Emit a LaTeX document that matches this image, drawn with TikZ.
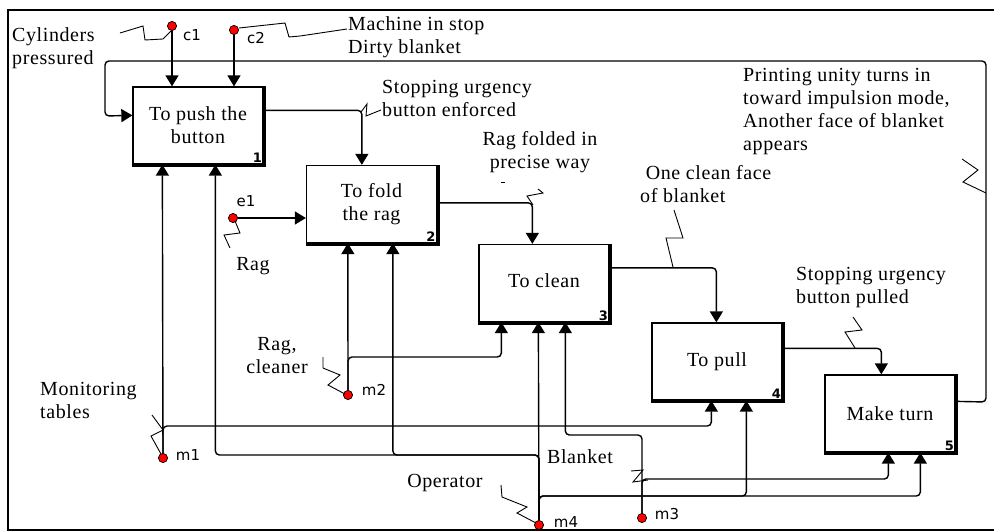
\documentclass[tikz,border=0pt]{standalone}
\usepackage{fontspec}
\setmainfont{Liberation Serif}[LetterSpace=3]
\newfontfamily\labfont{DejaVu Sans}
\usetikzlibrary{arrows.meta,calc}
\tikzset{
  fbox/.style={draw, line width=1.3pt, minimum width=130pt, minimum height=77pt, inner sep=0pt, align=center, font=\fontsize{20}{23}\selectfont},
  num/.style={anchor=south east, inner sep=1.5pt, font=\labfont\bfseries\fontsize{13}{13}\selectfont},
  arr/.style={-{Triangle[width=13pt,length=11pt]}, line width=1.4pt, rounded corners=4pt},
  dot/.style={circle, fill=red, draw=black, line width=0.6pt, inner sep=0pt, minimum size=9pt},
  dlab/.style={inner sep=0pt, font=\labfont\fontsize{15}{15}\selectfont},
  txt/.style={inner sep=0pt, align=left, font=\fontsize{20}{23}\selectfont},
  sq/.style={line width=0.9pt}
}
\begin{document}
\begin{tikzpicture}[x=1pt,y=-1pt]
\useasboundingbox (0,0) rectangle (994,531);
\draw[line width=1.5pt] (8,10) rectangle (997,530);

% boxes
\node[fbox] (b1) at (198,125.5) {To push the\\button};
\node[fbox] (b2) at (371.5,204) {To fold\\the rag};
\node[fbox] (b3) at (544,283) {To clean\vphantom{g}};
\node[fbox] (b4) at (717,361.5) {To pull};
\node[fbox] (b5) at (890,413.5) {Make turn};
\foreach \b in {b1,b2,b3,b4,b5}
  \draw[line width=3.5pt] ([xshift=1pt]\b.north east) -- ([xshift=1pt,yshift=-1pt]\b.south east) -- ([yshift=-1pt]\b.south west);
\node[num] at (b1.south east) {1};
\node[num] at (b2.south east) {2};
\node[num] at (b3.south east) {3};
\node[num] at (b4.south east) {4};
\node[num] at (b5.south east) {5};

% dots
\node[dot] (c1) at (172,26) {};
\node[dot] (c2) at (234,30) {};
\node[dot] (e1) at (233,218) {};
\node[dot] (m1) at (163,458) {};
\node[dot] (m2) at (348,395) {};
\node[dot] (m3) at (642,518) {};
\node[dot] (m4) at (539,525) {};

% connectors
\draw[arr] (c1) -- (c1 |- b1.north);
\draw[arr] (c2) -- (c2 |- b1.north);
\draw[arr] ($(b5.north east)+(0,27)$) -- (986,402) -- (986,61) -- (105,61) -- (105,116) -- ($(b1.north west)+(0,29)$);
\draw[arr] ($(b1.north east)+(0,24)$) -| ($(b2.north west)+(56,0)$);
\draw[arr] (e1) -- (e1 -| b2.west);
\draw[arr] ($(b2.north east)+(0,38)$) -| ($(b3.north west)+(54,0)$);
\draw[arr] ($(b3.north east)+(0,24)$) -| ($(b4.north west)+(65,0)$);
\draw[arr] ($(b4.north east)+(0,26)$) -| ($(b5.north west)+(57,0)$);

\draw[arr] (m1) -- ($(b1.south west)+(30,0)$);
\draw[arr] (m1) -- (163,426) -| ($(b4.south west)+(60,0)$);
\draw[arr] (m4) -- (539,455) -| ($(b1.south west)+(83,0)$);
\draw[arr] (m4) -- (539,455) -| ($(b2.south west)+(87,0)$);
\draw[arr] (m4) -- ($(b3.south west)+(60,0)$);
\draw[arr] (m4) -- (539,496) -| ($(b4.south west)+(95,0)$);
\draw[arr] (m4) -- (539,496) -| ($(b5.south west)+(96,0)$);
\draw[arr] (m2) -- ($(b2.south west)+(42,0)$);
\draw[arr] (m2) -- (348,357) -| ($(b3.south west)+(23,0)$);
\draw[arr] (m3) -- (642,435) -| ($(b3.south west)+(87,0)$);
\draw[arr] (m3) -- (642,479) -| ($(b5.south west)+(64,0)$);

% redraw dots on top
\foreach \p in {{172,26},{234,30},{233,218},{163,458},{348,395},{642,518},{539,525}}
  \node[dot] at (\p) {};

% dot labels
\node[dlab] at (192,35) {c1};
\node[dlab] at (256,38) {c2};
\node[dlab] at (246,201) {e1};
\node[dlab] at (188,455) {m1};
\node[dlab] at (374,390) {m2};
\node[dlab] at (667,514) {m3};
\node[dlab] at (566,522) {m4};

% squiggles
\draw[sq] (120,33) -- (143,26) -- (145,40) -- (163,39) -- (171,31);
\draw[sq] (239,28) -- (285,23) -- (289,37) -- (300,36) -- (347,29);
\draw[sq] (361,112) -- (367,104) -- (366,116) -- (381,110);
\draw[sq] (533,205) -- (527,196) -- (543,193) -- (538,189);
\draw[sq] (501,182) -- (505,182);
\draw[sq] (673,267) -- (666,238) -- (683,238) -- (674,210);
\draw[sq] (855,348) -- (845,332) -- (862,330) -- (853,317);
\draw[sq] (962,159) -- (978,170) -- (963,182) -- (986,193);
\draw[sq] (235,221) -- (240,233) -- (224,235) -- (230,248);
\draw[sq] (152,415) -- (163,430) -- (151,436) -- (161,454);
\draw[sq] (345,394) -- (328,385) -- (340,375) -- (323,368) -- (323,357);
\draw[sq] (536,523) -- (517,513) -- (527,507) -- (502,497) -- (501,485);
\draw[sq] (631,471) -- (643,470) -- (633,482) -- (648,480);

% texts
\node[txt, anchor=west] at (12,48.5) {Cylinders\\pressured};
\node[txt, anchor=west] at (348,37.5) {Machine in stop\\Dirty blanket};
\node[txt, anchor=west] at (382,98) {Stopping urgency\\button enforced};
\node[txt, align=center] at (540,152.5) {Rag folded in\\precise way};
\node[txt, anchor=west] at (640,184.5) {\ One clean face\\of blanket};
\node[txt, anchor=west] at (743,112) {Printing unity turns in\\toward impulsion mode,\\Another face of blanket\\appears};
\node[txt, anchor=west] at (796,288) {Stopping urgency\\button pulled};
\node[txt] at (253,266) {Rag};
\node[txt, align=center] at (277,355.5) {Rag,\\cleaner};
\node[txt, anchor=west] at (40,400) {Monitoring\\tables};
\node[txt] at (445,483) {Operator};
\node[txt] at (580,457) {Blanket};
\end{tikzpicture}
\end{document}
